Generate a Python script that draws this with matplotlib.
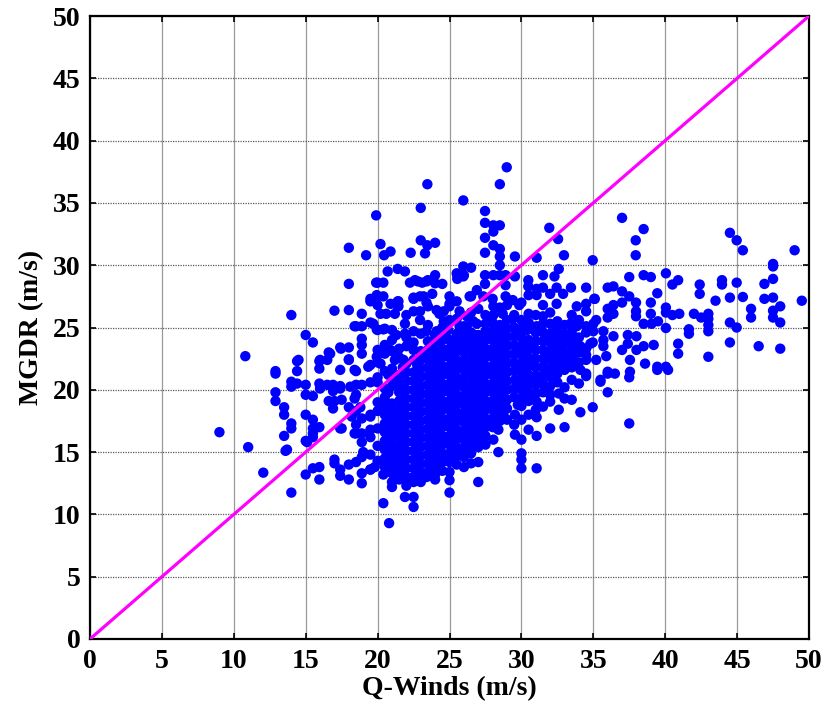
import numpy as np
import matplotlib.pyplot as plt

# scattered points (Q-Winds, MGDR)
outer_x = [19.9, 18.0, 19.2, 20.2, 18.0, 19.9, 19.5, 20.0, 20.0, 17.0, 18.0, 14.0, 18.5, 18.9, 19.5, 20.0, 15.0, 15.5,
           17.4, 18.0, 18.9, 18.9, 16.6, 10.8, 16.5, 18.0, 14.4, 15.95, 15.95, 12.9, 12.9, 14.4, 17.4, 18.5, 19.5, 20.0,
           14.0, 14.0, 14.4, 15.0, 15.0, 12.9, 12.9, 15.5, 15.95, 16.5, 16.9, 16.9, 17.4, 16.6, 17.0, 16.9, 17.5, 18.0,
           18.5, 18.5, 18.9, 19.5, 20.0, 18.5, 18.9, 19.5, 13.5, 13.5, 15.0, 15.5, 14.0, 14.0, 15.95, 15.5, 15.5, 17.4,
           18.5, 18.5, 18.9, 18.9, 19.5, 19.5, 13.5, 9.0, 11.0, 15.0, 13.6, 17.0, 17.0, 18.0, 18.5, 18.9, 19.5, 19.5,
           15.5, 15.95, 15.0, 12.05, 15.95, 17.4, 17.4, 18.0, 18.9, 18.9, 14.0,
           13.7, 15.1, 15.5, 16.0, 17.4, 16.9, 17.5, 18.1, 18.4, 18.8, 18.2, 18.4, 19.0, 19.5,
           17.45, 16.7, 16.0, 14.5, 18.0, 18.9, 18.4, 19.35, 19.94, 20.2, 20.9, 21.2, 21.8, 22.5, 22.5, 23.05,
           18.4, 19.94, 20.4, 21.0, 21.9, 22.5, 23.4, 24.1,
           18.9, 20.2, 20.6, 21.2, 22.0, 22.5, 22.95, 24.1, 24.6, 24.6, 25.0, 25.7, 26.2, 26.65, 26.2, 25.7,
           19.94, 20.4, 20.9, 21.45, 21.45, 22.5, 22.95, 23.4, 23.8, 25.0, 25.5, 26.5,
           21.4, 21.9, 20.7, 22.25, 22.8, 23.4, 24.0, 24.0, 24.5, 25.5, 25.96, 26.5, 25.96,
           28.98, 28.5, 23.46, 25.96, 23.0, 27.47, 27.47, 28.05, 28.5, 28.05, 27.47, 31.94, 32.55, 23.0, 23.46, 24.0,
           23.3, 20.45, 20.9, 22.3, 27.47, 28.05, 28.5, 28.5, 28.5, 29.55, 31.06, 32.96, 34.96,
           25.54, 25.54, 26.0, 20.0, 20.4, 22.6, 23.1, 23.5, 27.47, 28.05, 28.5, 28.9, 27.47, 28.9, 29.55, 30.48,
           30.48, 31.5, 32.3, 32.6, 33.45, 34.5, 35.1, 31.06, 31.5, 32.0, 32.45, 32.9, 32.45,
           23.2, 22.5, 21.4, 21.4, 19.5, 25.0, 26.4, 26.9, 27.35, 28.9, 29.4, 29.85, 30.5, 31.06, 31.5, 33.85, 34.5,
           19.7, 20.5, 21.3, 21.9, 22.95, 23.5, 24.3, 24.9, 25.5, 26.2, 26.9, 27.5, 28.05, 28.05, 28.7, 29.4, 30.4,
           31.06, 31.5, 32.0, 32.45, 33.4, 33.85, 34.5, 35.2, 33.85, 34.8, 33.4,
           37.0, 38.5, 37.95, 37.95, 44.5, 44.97, 45.4, 49.0, 47.5, 47.5, 47.5, 46.9, 37.5, 38.5, 39.0, 40.05, 40.5,
           40.9, 42.4, 42.4, 43.95, 43.95, 44.97, 36.0, 36.4, 37.0, 37.0, 37.5, 35.07, 37.97, 37.97, 37.97, 39.0,
           39.0, 39.45, 36.4, 36.0, 36.4, 36.0, 43.5, 44.5, 45.4, 46.9, 47.5, 49.5, 48.0, 40.05, 40.05, 40.5, 40.98,
           42.0, 42.5, 43.0, 43.0, 43.0, 43.0, 45.97, 45.97, 47.5, 47.5, 48.0, 44.5, 44.97, 40.05, 41.65, 41.65,
           44.5, 46.5, 48.0, 40.9, 40.9, 43.0, 39.45, 40.05,
           35.0, 35.0, 35.7, 35.7, 36.4, 35.7, 35.2, 35.9, 36.0, 36.5, 37.0, 37.4, 37.4, 37.55, 37.55, 38.0, 38.5,
           38.5, 38.6, 39.05, 39.2, 39.5, 38.0, 34.5, 36.0, 37.5, 35.5, 36.0, 34.96, 34.1, 37.5, 39.45, 40.2,
           34.96, 35.5, 33.0, 32.0, 31.06, 30.5, 31.06, 30.5, 29.55, 30.0, 31.06, 31.5, 32.0, 32.6, 32.6, 33.5, 33.0,
           33.5, 34.5, 34.1, 34.5, 33.6, 33.5, 34.1, 33.1, 32.6, 32.0, 31.5, 31.06, 30.4, 29.55, 29.0, 29.0, 28.4,
           28.4, 28.05, 27.5, 27.5, 27.0, 26.5, 26.5, 27.0, 26.0, 25.0, 25.0, 25.0, 24.1, 24.0, 23.4, 22.5, 22.5,
           22.5, 21.9, 21.0, 21.0, 20.4, 20.4, 20.8, 19.8, 19.5, 30.0, 30.0, 30.0, 30.0, 31.06, 29.55]
outer_y = [34.0, 31.4, 30.8, 31.7, 28.5, 28.6, 27.3, 27.5, 26.8, 26.35, 26.4, 26.0, 25.1, 25.1, 25.4, 24.8, 24.4, 23.8,
           23.4, 23.4, 24.1, 23.6, 23.0, 22.7, 22.4, 22.4, 22.3, 22.3, 21.7, 21.5, 21.3, 21.5, 21.6, 21.5, 22.0, 22.2,
           20.65, 20.25, 20.5, 20.4, 19.6, 19.8, 19.1, 19.5, 20.5, 20.4, 20.4, 19.9, 20.3, 19.1, 19.1, 18.5, 19.2, 18.6,
           20.4, 19.6, 20.4, 20.6, 20.6, 18.3, 17.7, 18.0, 18.6, 18.0, 18.0, 17.6, 17.3, 16.9, 17.0, 16.9, 16.2, 16.9,
           17.2, 16.5, 16.5, 15.8, 16.8, 16.2, 16.3, 16.6, 15.4, 15.9, 15.1, 14.4, 14.1, 14.0, 14.2, 14.6, 14.8, 13.6,
           13.7, 13.8, 13.2, 13.35, 12.8, 13.6, 13.1, 12.8, 13.3, 12.5, 11.75,
           15.2, 15.8, 16.5, 20.1, 20.1, 20.25, 16.9, 20.25, 19.3, 18.6, 17.85, 16.5, 15.0, 17.85,
           23.3, 22.9, 22.4, 22.4, 22.45, 22.9, 21.6, 21.85, 22.65, 22.1, 23.2, 22.4, 22.4, 23.2, 22.4, 22.8,
           25.1, 24.85, 24.85, 24.8, 24.5, 24.7, 24.7, 24.7,
           26.1, 26.1, 26.1, 26.1, 26.0, 26.3, 26.3, 26.4, 26.3, 25.5, 26.7, 26.3, 25.9, 25.5, 25.1, 25.1,
           27.6, 27.5, 26.9, 27.1, 26.7, 27.3, 27.5, 27.0, 27.7, 27.5, 27.1, 27.5,
           29.7, 29.5, 29.5, 28.6, 28.7, 28.7, 29.2, 28.55, 28.5, 29.35, 29.9, 29.8, 29.1,
           37.86, 36.5, 36.5, 35.2, 34.6, 34.35, 33.4, 33.2, 33.2, 32.7, 32.2, 33.0, 32.1, 32.0, 31.6, 31.8,
           30.95, 30.8, 31.1, 31.0, 31.0, 31.6, 31.3, 30.7, 30.0, 30.7, 30.6, 30.8, 30.4,
           29.2, 28.9, 29.2, 28.6, 28.6, 28.8, 28.6, 28.8, 29.2, 29.2, 29.2, 29.2, 28.5, 28.4, 29.1, 28.8,
           28.3, 29.2, 29.1, 29.7, 28.2, 28.2, 27.3, 28.1, 28.2, 27.7, 28.2, 27.7, 26.9,
           27.5, 27.4, 27.1, 26.7, 27.1, 26.9, 27.5, 28.0, 27.5, 27.5, 27.2, 26.8, 27.6, 27.6, 26.8, 26.7, 26.9,
           25.3, 24.9, 24.4, 25.3, 25.6, 26.7, 26.1, 24.8, 24.3, 24.5, 25.3, 25.3, 26.7, 26.0, 26.1, 25.7, 24.8,
           25.1, 25.9, 25.3, 24.8, 25.3, 25.1, 25.1, 25.6, 23.7, 23.7, 24.0,
           33.8, 32.9, 32.0, 30.8, 32.6, 32.0, 31.2, 31.2, 30.1, 29.9, 28.9, 28.5, 29.05, 29.2, 29.05, 29.35, 28.45,
           28.8, 28.45, 27.7, 28.8, 28.45, 28.6, 28.2, 28.3, 27.9, 27.0, 27.5, 27.3, 27.0, 26.3, 25.9, 27.0,
           26.1, 27.75, 26.8, 26.5, 26.1, 25.8, 27.15, 27.4, 27.45, 27.3, 27.4, 27.15, 26.7, 26.6, 26.2, 26.0, 26.1,
           26.1, 25.8, 26.1, 25.7, 25.2, 24.7, 26.5, 25.8, 26.35, 25.8, 25.4, 25.4, 25.0, 24.96, 24.86, 24.5,
           23.8, 23.5, 23.3, 23.7, 22.9, 22.65, 21.85, 21.85,
           25.3, 24.7, 24.7, 24.0, 24.3, 23.5, 22.4, 22.7, 21.45, 21.3, 23.2, 24.4, 23.7, 22.4, 21.45, 23.2, 25.3,
           23.5, 22.1, 25.3, 23.6, 25.5, 24.3, 21.1, 21.3, 21.0, 20.65, 19.8, 18.6, 18.2, 17.3, 21.6, 21.6,
           23.8, 20.8, 17.0, 16.9, 16.3, 16.8, 17.8, 18.0, 18.0, 18.7, 19.05, 18.65, 19.05, 18.4, 19.7, 19.2, 19.3,
           20.8, 21.3, 21.6, 22.4, 22.4, 23.1, 23.5, 24.0, 22.1, 21.05, 21.85, 20.8, 20.0, 20.8, 20.0, 17.6, 16.8,
           15.0, 16.0, 17.0, 16.3, 15.4, 14.9, 14.1, 12.6, 15.3, 14.2, 12.75, 11.75, 13.55, 13.2, 13.0, 12.6, 11.4,
           10.6, 11.4, 12.6, 12.2, 13.2, 10.9, 9.3, 13.8, 13.6, 16.0, 14.9, 14.4, 13.7, 13.7, 16.4]

# dense core, one list of MGDR values per Q-Winds column
core_x = [20.0, 20.5, 21.0, 21.5, 22.0, 22.5, 23.0, 23.5, 24.0, 24.5, 25.0, 25.5, 26.0, 26.5, 27.0, 27.5, 28.0,
          28.5, 29.0, 29.5, 30.0, 30.5, 31.0, 31.5, 32.0, 32.5, 33.0, 33.5, 34.0, 34.5,
          20.75, 21.75, 22.75, 23.75, 24.75, 25.75, 26.75, 27.75, 28.75, 29.75, 30.75, 31.75]
core_y = [
    [14.3, 15.5, 16.9, 18.3, 19.0, 21.0, 23.2],
    [13.8, 14.5, 15.2, 15.9, 16.6, 17.3, 18.0, 18.7, 19.4, 20.1, 21.5, 22.9, 23.6],
    [13.3, 14.0, 14.7, 15.4, 16.1, 16.8, 17.5, 18.2, 18.9, 20.3, 21.0, 21.7, 23.1, 24.0],
    [12.8, 13.5, 14.2, 14.9, 15.6, 16.3, 17.0, 17.7, 18.4, 19.1, 19.8, 20.5, 21.2, 22.6, 23.3],
    [12.3, 13.0, 13.7, 14.4, 15.1, 15.8, 16.5, 17.2, 17.9, 18.6, 19.3, 20.0, 20.7, 21.4, 22.1, 23.5, 24.2],
    [13.0, 13.7, 14.4, 15.1, 15.8, 16.5, 17.2, 17.9, 18.6, 19.3, 20.0, 20.7, 21.4, 23.8],
    [12.6, 13.3, 14.0, 14.7, 15.4, 16.1, 16.8, 17.5, 18.2, 18.9, 19.6, 20.3, 21.0, 21.7, 22.4, 23.1, 24.5],
    [13.4, 14.1, 14.8, 15.5, 16.2, 16.9, 17.6, 18.3, 19.0, 19.7, 20.4, 21.1, 21.8, 22.5, 23.2, 23.9, 25.2],
    [12.8, 13.9, 14.6, 15.3, 16.0, 16.7, 17.4, 18.1, 18.8, 19.5, 20.2, 20.9, 21.6, 22.3, 23.0, 23.7, 24.4],
    [13.5, 14.2, 14.9, 15.6, 16.3, 17.0, 17.7, 18.4, 19.1, 19.8, 20.5, 21.2, 21.9, 22.6, 23.3, 24.0, 25.0],
    [13.4, 14.9, 15.6, 16.3, 17.0, 17.7, 18.4, 19.1, 19.8, 20.5, 21.2, 21.9, 22.6, 23.3, 24.0, 25.6],
    [14.0, 14.7, 15.4, 16.1, 16.8, 17.5, 18.2, 18.9, 19.6, 20.3, 21.0, 21.7, 22.4, 23.1, 23.8, 24.5, 25.7],
    [13.8, 14.6, 16.0, 16.7, 17.4, 18.1, 18.8, 19.5, 20.2, 20.9, 21.6, 22.3, 23.0, 23.7, 24.4, 25.1],
    [15.5, 16.2, 16.9, 17.6, 18.3, 19.0, 19.7, 20.4, 21.1, 21.8, 22.5, 23.2, 23.9, 24.6, 26.2],
    [14.2, 16.0, 16.7, 17.4, 18.1, 18.8, 19.5, 20.2, 20.9, 21.6, 22.3, 23.0, 23.7, 24.4, 26.5],
    [15.6, 17.7, 18.4, 19.1, 19.8, 20.5, 21.2, 21.9, 22.6, 23.3, 24.0, 24.7, 26.0],
    [17.0, 17.7, 18.4, 19.1, 19.8, 20.5, 21.2, 21.9, 22.6, 23.3, 24.0, 24.7, 25.4, 27.3],
    [17.5, 18.2, 18.9, 19.6, 20.3, 21.0, 21.7, 22.4, 23.1, 23.8, 24.5, 25.2, 26.6],
    [18.5, 19.2, 20.7, 21.4, 22.1, 22.8, 23.5, 24.2, 24.9, 25.6, 26.8],
    [17.2, 19.4, 20.1, 21.5, 22.2, 22.9, 23.6, 24.3, 25.0, 26.0],
    [17.6, 19.3, 20.0, 20.7, 21.4, 22.1, 22.8, 23.5, 24.2, 24.9, 25.6, 27.0],
    [19.1, 19.8, 20.5, 21.2, 21.9, 22.6, 23.3, 24.0, 25.4, 26.1],
    [18.4, 19.7, 20.4, 21.1, 21.8, 22.5, 23.2, 23.9, 24.6, 26.0],
    [19.8, 20.5, 21.2, 22.5, 23.2, 23.9, 24.6, 25.3],
    [19.6, 20.3, 21.7, 22.4, 23.1, 23.8, 24.5, 26.2],
    [20.6, 21.3, 22.0, 22.7, 23.4, 24.1, 25.5],
    [20.2, 21.6, 22.3, 23.0, 23.7, 24.5, 25.2],
    [21.8, 22.8, 23.6, 24.6, 26.0],
    [20.5, 22.2, 23.0, 24.2, 25.6],
    [22.8, 23.3, 24.6, 26.3],
    [14.1, 15.5, 16.9, 18.4, 19.8, 21.2],
    [13.2, 14.6, 16.0, 17.4, 18.8, 20.2, 21.8],
    [13.4, 14.8, 16.2, 17.6, 19.0, 20.4, 22.0],
    [13.6, 15.0, 16.4, 17.8, 19.2, 20.6, 22.0, 23.4],
    [14.4, 15.8, 17.2, 18.6, 20.0, 21.4, 22.8, 24.2],
    [14.8, 16.4, 17.8, 19.2, 20.6, 22.0, 23.4, 24.8],
    [16.0, 17.4, 18.8, 20.2, 21.6, 23.0, 24.4],
    [17.2, 18.6, 20.0, 21.4, 22.8, 24.2, 25.6],
    [18.0, 19.4, 20.8, 22.2, 23.6, 25.0],
    [18.8, 20.2, 21.6, 23.0, 24.4],
    [19.4, 20.8, 22.2, 23.6, 25.0],
    [20.0, 21.4, 22.8, 24.2],
]

# 1:1 reference line
line_x = [0, 50]
line_y = [0, 50]
ticks = [0, 5, 10, 15, 20, 25, 30, 35, 40, 45, 50]

x = np.array(outer_x + [cx for cx, col in zip(core_x, core_y) for _ in col])
y = np.array(outer_y + [v for col in core_y for v in col])

plt.rcParams["font.family"] = ["Liberation Serif", "DejaVu Serif"]
plt.rcParams["font.weight"] = "bold"

fig = plt.figure(figsize=(8.25, 7.15), dpi=100)
ax = fig.add_axes([0.1091, 0.1063, 0.8715, 0.8713])

ax.scatter(x, y, s=56, color=(0, 0, 1), edgecolors="none", zorder=3)
ax.plot(line_x, line_y, color=(1, 0, 1), linewidth=2.3, zorder=4)

ax.set_xlim(0, 50)
ax.set_ylim(0, 50)
ax.set_xticks(ticks)
ax.set_yticks(ticks)
ax.tick_params(direction="in", length=4, width=1.2, top=True, right=True,
               labelsize=20, pad=7)
for lab in ax.get_xticklabels() + ax.get_yticklabels():
    lab.set_fontweight("bold")

ax.xaxis.grid(True, color="0.6", linewidth=0.9, linestyle="-")
ax.yaxis.grid(True, color="0.35", linewidth=0.9, linestyle=(0, (1, 1)))
ax.set_axisbelow(True)
for sp in ax.spines.values():
    sp.set_linewidth(1.6)

ax.set_xlabel("Q-Winds (m/s)", fontsize=20, fontweight="bold", labelpad=2)
ax.set_ylabel("MGDR (m/s)", fontsize=20, fontweight="bold", labelpad=6)

fig.savefig("out.png", dpi=100)
